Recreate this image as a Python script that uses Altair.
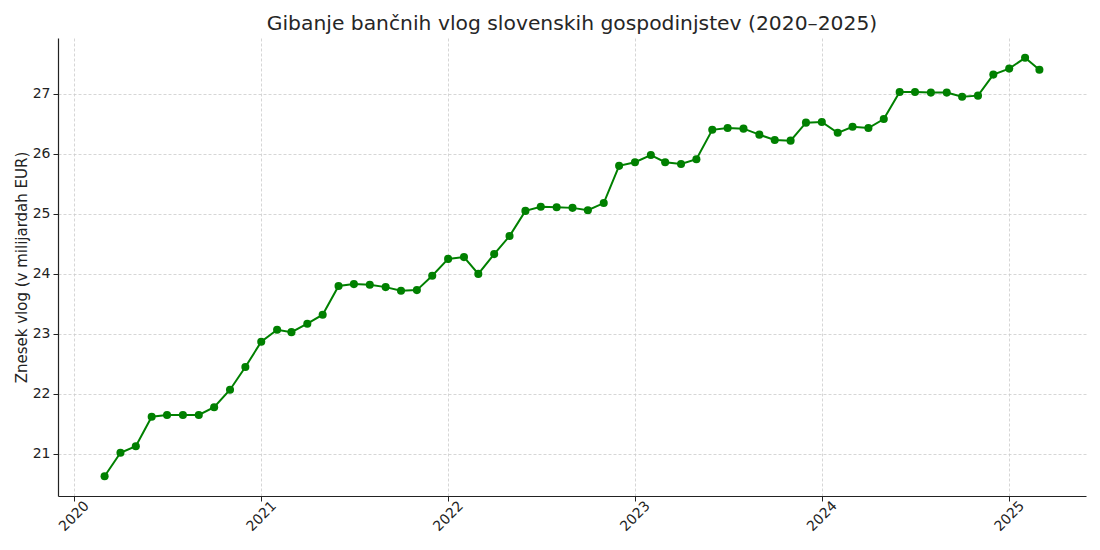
import altair as alt
import pandas as pd

# monthly deposit totals, billion EUR
months = [
    "2020-03", "2020-04", "2020-05", "2020-06", "2020-07", "2020-08", "2020-09",
    "2020-10", "2020-11", "2020-12",
    "2021-01", "2021-02", "2021-03", "2021-04", "2021-05", "2021-06", "2021-07",
    "2021-08", "2021-09", "2021-10", "2021-11", "2021-12",
    "2022-01", "2022-02", "2022-03", "2022-04", "2022-05", "2022-06", "2022-07",
    "2022-08", "2022-09", "2022-10", "2022-11", "2022-12",
    "2023-01", "2023-02", "2023-03", "2023-04", "2023-05", "2023-06", "2023-07",
    "2023-08", "2023-09", "2023-10", "2023-11", "2023-12",
    "2024-01", "2024-02", "2024-03", "2024-04", "2024-05", "2024-06", "2024-07",
    "2024-08", "2024-09", "2024-10", "2024-11", "2024-12",
    "2025-01", "2025-02", "2025-03",
]
deposits = [
    20.63, 21.02, 21.13, 21.62, 21.65, 21.65, 21.65, 21.78, 22.07, 22.45,
    22.87, 23.07, 23.03, 23.17, 23.32, 23.80, 23.83, 23.82, 23.78, 23.72, 23.73, 23.97,
    24.25, 24.28, 24.00, 24.33, 24.63, 25.05, 25.12, 25.11, 25.10, 25.06, 25.18, 25.80,
    25.86, 25.98, 25.86, 25.83, 25.91, 26.40, 26.43, 26.42, 26.32, 26.23, 26.22, 26.52,
    26.53, 26.35, 26.45, 26.43, 26.58, 27.03, 27.03, 27.02, 27.02, 26.95, 26.97, 27.32,
    27.42, 27.60, 27.40,
]
years = [2020, 2021, 2022, 2023, 2024, 2025]
y_ticks = [21, 22, 23, 24, 25, 26, 27]

df = pd.DataFrame({"date": [m + "-01T00:00:00" for m in months], "value": deposits})

FONT = "DejaVu Sans"
GREEN = "#008000"

x_enc = alt.X(
    "date:T",
    title="Datum",
    scale=alt.Scale(
        domain=[
            alt.DateTime(year=2019, month=12, date=1),
            alt.DateTime(year=2025, month=5, date=31),
        ]
    ),
    axis=alt.Axis(
        values=[alt.DateTime(year=y, month=1, date=1) for y in years],
        format="%Y",
        labelAngle=-45,
        labelAlign="center",
        labelBaseline="middle",
        labelPadding=15,
        titlePadding=20,
    ),
)
y_enc = alt.Y(
    "value:Q",
    title="Znesek vlog (v milijardah EUR)",
    scale=alt.Scale(domain=[20.3, 27.93], nice=False, zero=False),
    axis=alt.Axis(values=y_ticks, labelPadding=3, titlePadding=3, titleFontSize=15),
)

base = alt.Chart(df).encode(x=x_enc, y=y_enc)
line = base.mark_line(color=GREEN, strokeWidth=2)
dots = base.mark_circle(color=GREEN, size=65, opacity=1)

chart = (
    (line + dots)
    .properties(
        width=1028,
        height=458,
        autosize=alt.AutoSizeParams(type="none"),
        padding={"left": 50, "top": 30, "right": 6, "bottom": 44},
        title=alt.Title(
            "Gibanje bančnih vlog slovenskih gospodinjstev (2020–2025)",
            font=FONT,
            fontSize=20.3,
            fontWeight="normal",
            color="#262626",
            baseline="alphabetic",
            frame="group",
            offset=7,
            dy=19,
        ),
    )
    .configure_view(stroke=None)
    .configure_axis(
        labelFont=FONT,
        titleFont=FONT,
        labelFontSize=14,
        titleFontSize=14,
        titleFontWeight="normal",
        labelColor="#222222",
        titleColor="#222222",
        domainColor="#222222",
        domainWidth=1.2,
        tickColor="#222222",
        tickSize=5,
        gridColor="#cccccc",
        gridDash=[3, 2],
        gridWidth=0.8,
    )
)

chart.save("out.html", embed_options={"renderer": "svg", "actions": False})
